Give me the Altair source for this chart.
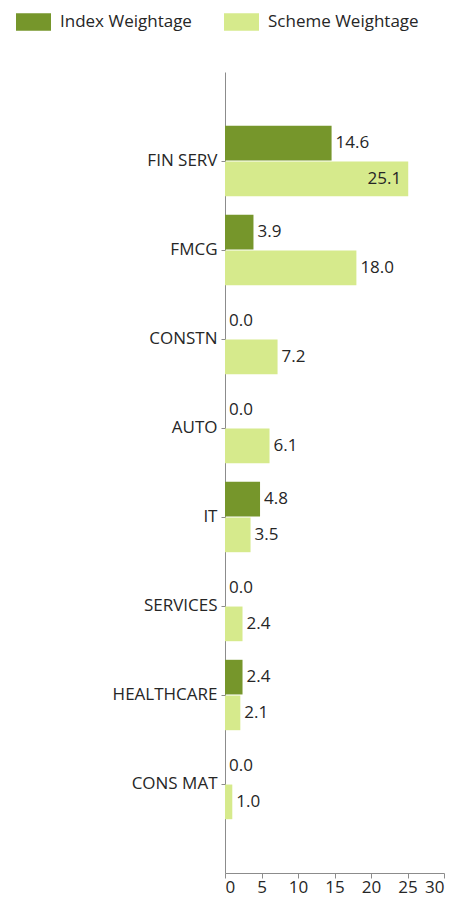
import altair as alt
import pandas as pd

categories = ["FIN SERV", "FMCG", "CONSTN", "AUTO", "IT", "SERVICES", "HEALTHCARE", "CONS MAT"]
index_weight = [14.6, 3.9, 0.0, 0.0, 4.8, 0.0, 2.4, 0.0]
scheme_weight = [25.1, 18.0, 7.2, 6.1, 3.5, 2.4, 2.1, 1.0]
series_names = ["Index Weightage", "Scheme Weightage"]
colors = ["#76962b", "#d6ea8c"]
x_ticks = [0, 5, 10, 15, 20, 25, 30]

rows = []
for c, a, b in zip(categories, index_weight, scheme_weight):
    rows.append({"category": c, "series": series_names[0], "value": a})
    rows.append({"category": c, "series": series_names[1], "value": b})
df = pd.DataFrame(rows)

FONT = "Open Sans"
FS = 17
TXT = "#262626"
AX = "#8c8c8c"

y = alt.Y(
    "category:N",
    sort=categories,
    scale=alt.Scale(paddingInner=0, paddingOuter=0.5),
    axis=alt.Axis(title=None, domainColor=AX, tickColor=AX, tickSize=4,
                  labelFont=FONT, labelFontSize=FS, labelColor=TXT,
                  labelPadding=4, grid=False),
)
yoff = alt.YOffset("series:N", sort=series_names,
                   scale=alt.Scale(paddingInner=0.03, paddingOuter=0.26))
x = alt.X(
    "value:Q",
    scale=alt.Scale(domain=[0, 30], nice=False),
    axis=alt.Axis(title=None, values=x_ticks, tickCount=10, domainColor=AX, tickColor=AX, tickSize=5,
                  labelFont=FONT, labelFontSize=FS, labelColor=TXT, grid=False,
                  labelPadding=1, labelOverlap=False),
)

bars = alt.Chart(df).mark_bar().encode(
    x=x, y=y, yOffset=yoff,
    color=alt.Color(
        "series:N",
        scale=alt.Scale(domain=series_names, range=colors),
        legend=alt.Legend(
            title=None, orient="none", legendX=-209, legendY=-68, direction="horizontal",
            symbolType="M-1,-0.5H1V0.5H-1Z", symbolSize=1225, symbolStrokeWidth=0,
            labelFont=FONT, labelFontSize=FS, labelColor=TXT, labelOffset=9,
            columnPadding=32, padding=0,
        ),
    ),
)

outside = alt.Chart(df).transform_filter("datum.value < 22").mark_text(
    align="left", baseline="middle", dx=4, font=FONT, fontSize=FS, color=TXT
).encode(x="value:Q", y=alt.Y("category:N", sort=categories), yOffset=alt.YOffset("series:N", sort=series_names),
         text=alt.Text("value:Q", format=".1f"))

inside = alt.Chart(df).transform_filter("datum.value >= 22").mark_text(
    align="right", baseline="middle", dx=-7, font=FONT, fontSize=FS, color=TXT
).encode(x="value:Q", y=alt.Y("category:N", sort=categories), yOffset=alt.YOffset("series:N", sort=series_names),
         text=alt.Text("value:Q", format=".1f"))

chart = alt.layer(bars, outside, inside).properties(
    width=219, height=801,
    autosize=alt.AutoSizeParams(type="none"),
    padding={"left": 217, "top": 64, "right": 4, "bottom": 23},
    background="white",
).configure_view(stroke=None)

chart.save("out.html", embed_options={"renderer": "svg", "actions": False})
